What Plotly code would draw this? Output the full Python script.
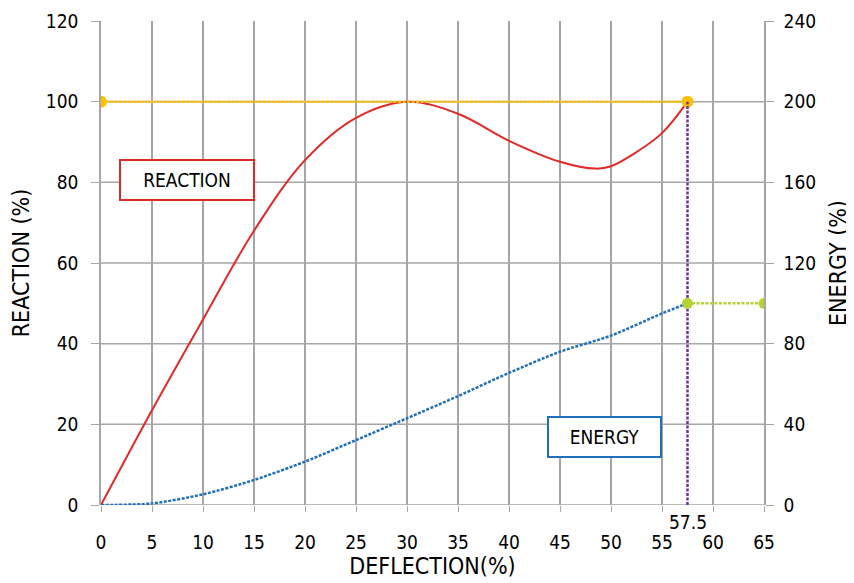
import plotly.graph_objects as go

# reaction curve (left axis, %)
defl = [0, 5, 10, 15, 20, 25, 30, 35, 40, 45, 48.5, 50, 52.5, 55, 57.5]
reaction = [0, 23.5, 46, 68, 85.5, 96, 100, 97, 90.3, 85.1, 83.4, 84, 87.5, 92.2, 100]

# energy curve (right axis, %)
defl_e = [0, 5, 10, 15, 20, 25, 30, 35, 40, 45, 50, 55, 57.5]
energy = [0, 0.8, 5.3, 12.4, 21.5, 32.2, 43, 54, 65.5, 76, 84, 95, 100]

# reference lines
limit_x = [0, 57.5]
limit_y = [100, 100]
energy_end_x = [57.5, 65]
energy_end_y = [100, 100]
cut_x = 57.5

x_ticks = list(range(0, 70, 5))
y_ticks = [0, 20, 40, 60, 80, 100, 120]
y2_ticks = [0, 40, 80, 120, 160, 200, 240]

font = "DejaVu Sans Condensed, Liberation Sans Narrow, sans-serif"
grid = "#a6a6a6"
dots = "3px,1.5px"

fig = go.Figure()

fig.add_trace(go.Scatter(x=defl, y=reaction, mode="lines",
                         line=dict(color="#e02a27", width=2, shape="spline", smoothing=1.0)))
fig.add_trace(go.Scatter(x=defl_e, y=energy, mode="lines", yaxis="y2",
                         line=dict(color="#1f6fbf", width=2.5, dash=dots, shape="spline", smoothing=0.8)))
fig.add_trace(go.Scatter(x=limit_x, y=limit_y, mode="lines+markers",
                         line=dict(color="#ffc000", width=2.5, dash=dots), marker=dict(size=12, color="#ffc000")))
fig.add_trace(go.Scatter(x=energy_end_x, y=energy_end_y, mode="lines+markers", yaxis="y2",
                         line=dict(color="#b5d334", width=2.5, dash=dots), marker=dict(size=11, color="#b5d334")))
fig.add_trace(go.Scatter(x=[cut_x, cut_x], y=[0, limit_y[-1]], mode="lines",
                         line=dict(color="#7030a0", width=2.5, dash=dots)))

# horizontal gridlines (none at the top edge)
for v in y_ticks[:-1]:
    fig.add_shape(type="line", xref="paper", x0=0, x1=1, yref="y", y0=v, y1=v,
                  line=dict(color=grid, width=1.5), layer="below")

fig.add_annotation(x=cut_x, y=0, yref="y", text="57.5", showarrow=False, yshift=-17,
                   font=dict(size=19, color="black", family=font))
fig.add_annotation(x=8.4, y=80.5, text="REACTION", showarrow=False, bgcolor="white",
                   bordercolor="#e02a27", borderwidth=2, borderpad=8, width=116,
                   font=dict(size=19, color="black", family=font))
fig.add_annotation(x=49.4, y=16.8, text="ENERGY", showarrow=False, bgcolor="white",
                   bordercolor="#1f6fbf", borderwidth=2, borderpad=8, width=95,
                   font=dict(size=19, color="black", family=font))

# page body has an 8px margin, so the figure is sized to fit the window
fig.update_layout(
    width=846, height=575,
    margin=dict(l=93, r=90, t=13, b=78),
    plot_bgcolor="white", paper_bgcolor="white",
    showlegend=False,
    font=dict(family=font, size=19, color="black"),
    xaxis=dict(range=[0, 65], tickvals=x_ticks, showgrid=True, gridcolor=grid, gridwidth=1.5,
               zeroline=False, showline=False, ticks="outside", ticklen=6, tickcolor=grid,
               ticklabelstandoff=14, automargin=False,
               title=dict(text="DEFLECTION(%)", font=dict(size=23), standoff=4)),
    yaxis=dict(range=[0, 120], tickvals=y_ticks, showgrid=False, zeroline=False,
               showline=True, linecolor=grid, linewidth=1.5, automargin=False,
               ticks="outside", ticklen=8, tickcolor=grid, ticklabelstandoff=9,
               title=dict(text="REACTION (%)", font=dict(size=23), standoff=10)),
    yaxis2=dict(range=[0, 240], tickvals=y2_ticks, overlaying="y", side="right",
                showgrid=False, zeroline=False, showline=True, linecolor=grid, linewidth=1.5,
                ticks="outside", ticklen=8, tickcolor=grid, automargin=False, ticklabelstandoff=6,
                title=dict(text="ENERGY (%)", font=dict(size=23), standoff=15)),
)

fig.write_html("out.html")
